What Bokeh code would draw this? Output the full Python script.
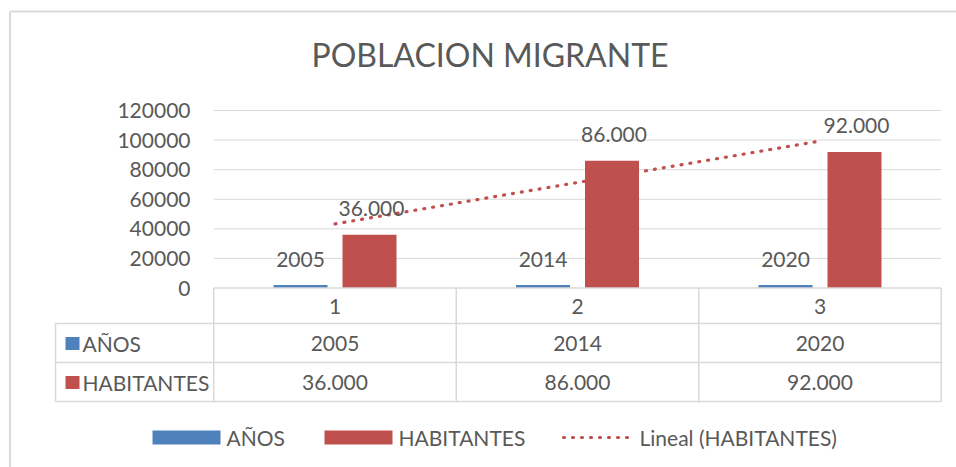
import numpy as np
from bokeh.plotting import figure
from bokeh.models import Range1d
from bokeh.core.properties import value
from bokeh.embed import file_html
from bokeh.resources import INLINE

# ---------------- data ----------------
title = "POBLACION MIGRANTE"
categories = ["1", "2", "3"]
cat_pos = [1, 2, 3]
series_names = ["AÑOS", "HABITANTES"]
anos = [2005, 2014, 2020]
habitantes = [36000, 86000, 92000]
y_ticks = [0, 20000, 40000, 60000, 80000, 100000, 120000]
trend_name = "Lineal (HABITANTES)"


def fmt_thousands(v):
    return f"{v:,}".replace(",", ".")


anos_labels = [str(v) for v in anos]
hab_labels = [fmt_thousands(v) for v in habitantes]

# ---------------- style ----------------
BLUE = "#4F81BD"
RED = "#C0504D"
TXT = "#595959"
GRID = "#d9d9d9"
FONT = value("Lato")
FS = "21px"

W, H = 956, 467
ORIGIN = 0
PX_PER_CAT = 242.5
CAT1_PX = 334.5 - ORIGIN
Y0_PX = 287.5 - ORIGIN
PX_PER_VAL = 177.5 / 120000


def X(px):  # reference-pixel x -> data x
    return 1 + (px - ORIGIN - CAT1_PX) / PX_PER_CAT


def Y(py):  # reference-pixel y -> data y
    return (Y0_PX - (py - ORIGIN)) / PX_PER_VAL


p = figure(width=W, height=H, output_backend="svg", toolbar_location=None,
           x_range=Range1d(X(ORIGIN), X(ORIGIN + W)), y_range=Range1d(Y(ORIGIN + H), Y(ORIGIN)),
           x_axis_location=None, y_axis_location=None, min_border=0)
p.outline_line_color = None
p.grid.visible = False
p.background_fill_color = "white"
p.border_fill_color = "white"

# chart border (left & top)
p.segment(x0=[X(9.5), X(9.5)], y0=[Y(11), Y(11)], x1=[X(9.5), X(970)], y1=[Y(480), Y(11)],
          line_color=GRID, line_width=2)

# title
p.text(x=[X(489.5)], y=[Y(54)], text=[title], text_font=FONT, text_font_size="32px",
       text_color=TXT, text_align="center", text_baseline="middle")

# gridlines
x_left, x_right = 0.5, 3.5
p.segment(x0=[x_left] * (len(y_ticks) - 1), x1=[x_right] * (len(y_ticks) - 1),
          y0=y_ticks[1:], y1=y_ticks[1:], line_color=GRID, line_width=1)

# y tick labels
p.text(x=[X(190)] * len(y_ticks), y=y_ticks, text=[str(t) for t in y_ticks], text_font=FONT,
       text_font_size=FS, text_color=TXT, text_align="right", text_baseline="middle")

# trendline (linear fit of HABITANTES)
slope, intercept = np.polyfit(cat_pos, habitantes, 1)
tx = np.array([cat_pos[0], cat_pos[-1]], dtype=float)
p.line(x=tx, y=slope * tx + intercept, line_color=RED, line_width=3.2,
       line_dash="1 8", line_cap="round")

# bars
off = 34.5 / PX_PER_CAT
bw = 54 / PX_PER_CAT
xb = np.array(cat_pos, dtype=float)
p.vbar(x=xb - off, top=anos, bottom=0, width=bw, fill_color=BLUE, line_color=None)
p.vbar(x=xb + off, top=habitantes, bottom=0, width=bw, fill_color=RED, line_color=None)

# data labels
p.text(x=xb - off, y=anos, text=anos_labels, y_offset=-26, text_font=FONT, text_font_size=FS,
       text_color=TXT, text_align="center", text_baseline="middle")
p.text(x=xb + off + 2 / PX_PER_CAT, y=habitantes, text=hab_labels, y_offset=-26, text_font=FONT,
       text_font_size=FS, text_color=TXT, text_align="center", text_baseline="middle")

# data table lines
col_edges = [0.5, 1.5, 2.5, 3.5]
row_top, row1, row2, row3 = 0, Y(323), Y(362), Y(401)
hx0 = [x_left, X(55), X(55), X(55)]
hy = [row_top, row1, row2, row3]
p.segment(x0=hx0, x1=[x_right] * 4, y0=hy, y1=hy, line_color=GRID, line_width=1.5)
vx = [X(55)] + col_edges
vy0 = [row1] + [row_top] * 4
p.segment(x0=vx, x1=vx, y0=vy0, y1=[row3] * 5, line_color=GRID, line_width=1.5)

# table texts
p.text(x=cat_pos, y=[Y(306)] * 3, text=categories, text_font=FONT, text_font_size=FS,
       text_color=TXT, text_align="center", text_baseline="middle")
p.text(x=cat_pos, y=[Y(343)] * 3, text=anos_labels, text_font=FONT, text_font_size=FS,
       text_color=TXT, text_align="center", text_baseline="middle")
p.text(x=cat_pos, y=[Y(382)] * 3, text=hab_labels, text_font=FONT, text_font_size=FS,
       text_color=TXT, text_align="center", text_baseline="middle")
# row headers
p.rect(x=[X(72), X(72)], y=[Y(343), Y(382)], width=14, height=13, width_units="screen",
       height_units="screen", fill_color=[BLUE, RED], line_color=None)
p.text(x=[X(82), X(82)], y=[Y(343), Y(382)], text=series_names, text_font=FONT, text_font_size=FS,
       text_color=TXT, text_align="left", text_baseline="middle")

# legend
p.rect(x=[X(186), X(358)], y=[Y(437), Y(437)], width=68, height=14, width_units="screen",
       height_units="screen", fill_color=[BLUE, RED], line_color=None)
p.line(x=[X(563), X(632)], y=[Y(437), Y(437)], line_color=RED, line_width=3.2,
       line_dash="1 8", line_cap="round")
p.text(x=[X(226), X(398), X(639)], y=[Y(437)] * 3, text=series_names + [trend_name],
       text_font=FONT, text_font_size=FS, text_color=TXT, text_align="left", text_baseline="middle")

open("out.html", "w").write(file_html(p, INLINE))
